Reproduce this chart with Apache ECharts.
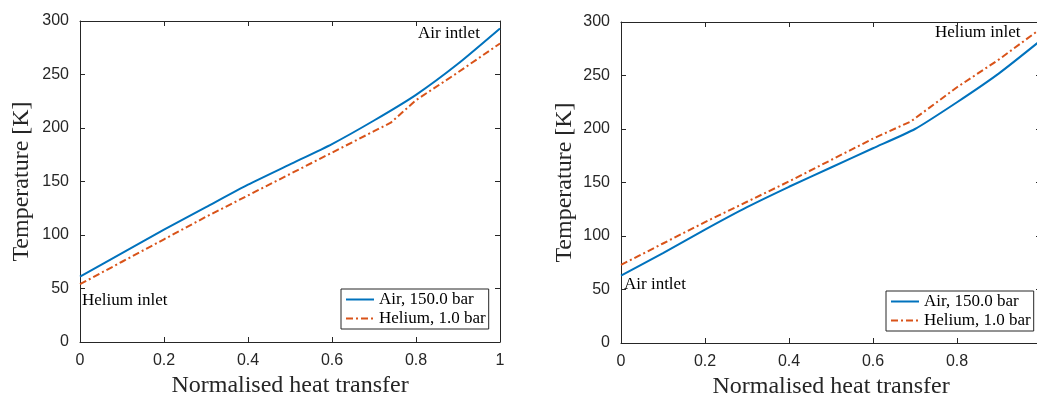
<!DOCTYPE html>
<html>
<head>
<meta charset="utf-8">
<script src="https://cdn.jsdelivr.net/npm/echarts@6/dist/echarts.min.js"></script>
<style>
html,body{margin:0;padding:0;background:#fff}
#main{width:1037px;height:394px}
</style>
</head>
<body>
<div id="main"></div>
<script>
// left panel
var xAirL = [0, 0.1, 0.2, 0.3, 0.4, 0.5, 0.6, 0.7, 0.8, 0.9, 1.0]
var airL = [61, 83, 105, 126, 147, 166, 185, 207, 231, 260, 293]
var xHeL = [0, 0.1, 0.2, 0.3, 0.4, 0.5, 0.6, 0.7, 0.74, 0.8, 0.9, 1.0]
var heL = [54, 75, 96, 117, 137, 157, 177, 197, 205, 226, 252, 279]
// right panel
var xAirR = [0, 0.1, 0.2, 0.3, 0.4, 0.5, 0.6, 0.7, 0.8, 0.9, 1.0]
var airR = [63, 84, 106, 127, 146, 164, 182, 200, 225, 252, 283]
var xHeR = [0, 0.1, 0.2, 0.3, 0.4, 0.5, 0.6, 0.69, 0.8, 0.9, 1.0]
var heR = [73, 93, 113, 132, 151, 171, 191, 207, 239, 265, 294]

var airName = 'Air, 150.0 bar'
var heName = 'Helium, 1.0 bar'
var blue = '#0072BD'
var orange = '#D95319'
var serif = '"Liberation Serif", "DejaVu Serif", serif'
var sans = '"Liberation Sans", Arial, sans-serif'

function pairs(xs, ys) {
    var out = []
    for (let i = 0; i < xs.length; i++) {
        out.push([xs[i], ys[i]])
    }
    return out
}

function xAx(grid, top) {
    return {
        type: 'value', gridIndex: grid, min: 0, max: 1, interval: 0.2,
        position: top ? 'top' : 'bottom',
        name: top ? '' : 'Normalised heat transfer',
        nameLocation: 'middle', nameGap: 28,
        nameTextStyle: { fontFamily: serif, fontSize: 24, color: '#262626' },
        axisLine: { show: true, onZero: false, lineStyle: { color: '#262626', width: 1 } },
        axisTick: { show: true, inside: true, length: 5, lineStyle: { color: '#262626' } },
        axisLabel: { show: !top, fontFamily: sans, fontSize: 16, color: '#262626', margin: 11,
            showMaxLabel: grid == 0 },
        splitLine: { show: false }
    }
}
function yAx(grid, right) {
    return {
        type: 'value', gridIndex: grid, min: 0, max: 300, interval: 50,
        position: right ? 'right' : 'left',
        name: right ? '' : 'Temperature [K]',
        nameLocation: 'middle', nameGap: grid == 0 ? 46 : 44,
        nameTextStyle: { fontFamily: serif, fontSize: 24, color: '#262626' },
        axisLine: { show: true, onZero: false, lineStyle: { color: '#262626', width: 1 } },
        axisTick: { show: true, inside: true, length: 5, lineStyle: { color: '#262626' } },
        axisLabel: { show: !right, fontFamily: sans, fontSize: 16, color: '#262626', margin: 11 },
        splitLine: { show: false }
    }
}
function line(name, data, x, y, color, dashed) {
    return {
        name: name, type: 'line', xAxisIndex: x, yAxisIndex: y,
        data: data, symbol: 'none', showSymbol: false, smooth: dashed ? false : 0.2,
        lineStyle: { color: color, width: 2, type: dashed ? [7, 3, 2, 3] : 'solid' },
        itemStyle: { color: color },
        animation: false
    }
}
function legendAt(left, top) {
    return {
        left: left, top: top, orient: 'vertical',
        data: [airName, heName],
        itemWidth: 28, itemHeight: 10, itemGap: 2,
        padding: [2, 3, 2, 4],
        borderColor: '#262626', borderWidth: 1,
        backgroundColor: '#fff',
        itemStyle: { opacity: 0 },
        textStyle: { fontFamily: serif, fontSize: 17, color: '#000' },
        selectedMode: false
    }
}
function note(text, x, y) {
    return {
        type: 'text', left: x, top: y,
        style: { text: text, font: '17px ' + serif, fill: '#000' }
    }
}

var mCharts = echarts.init(document.getElementById('main'))
var option = {
    backgroundColor: '#fff',
    animation: false,
    grid: [
        { left: 80, top: 21, width: 420, height: 321, outerBoundsMode: 'none' },
        { left: 621, top: 22, width: 420, height: 321, outerBoundsMode: 'none' }
    ],
    xAxis: [xAx(0, false), xAx(0, true), xAx(1, false), xAx(1, true)],
    yAxis: [yAx(0, false), yAx(0, true), yAx(1, false), yAx(1, true)],
    legend: [legendAt(341, 289), legendAt(886, 291)],
    series: [
        line(airName, pairs(xAirL, airL), 0, 0, blue, false),
        line(heName, pairs(xHeL, heL), 0, 0, orange, true),
        line(airName, pairs(xAirR, airR), 2, 2, blue, false),
        line(heName, pairs(xHeR, heR), 2, 2, orange, true)
    ],
    graphic: [
        note('Air intlet', 418, 25),
        note('Helium inlet', 82, 292),
        note('Helium inlet', 935, 24),
        note('Air intlet', 624, 276)
    ]
}
mCharts.setOption(option)
</script>
</body>
</html>
